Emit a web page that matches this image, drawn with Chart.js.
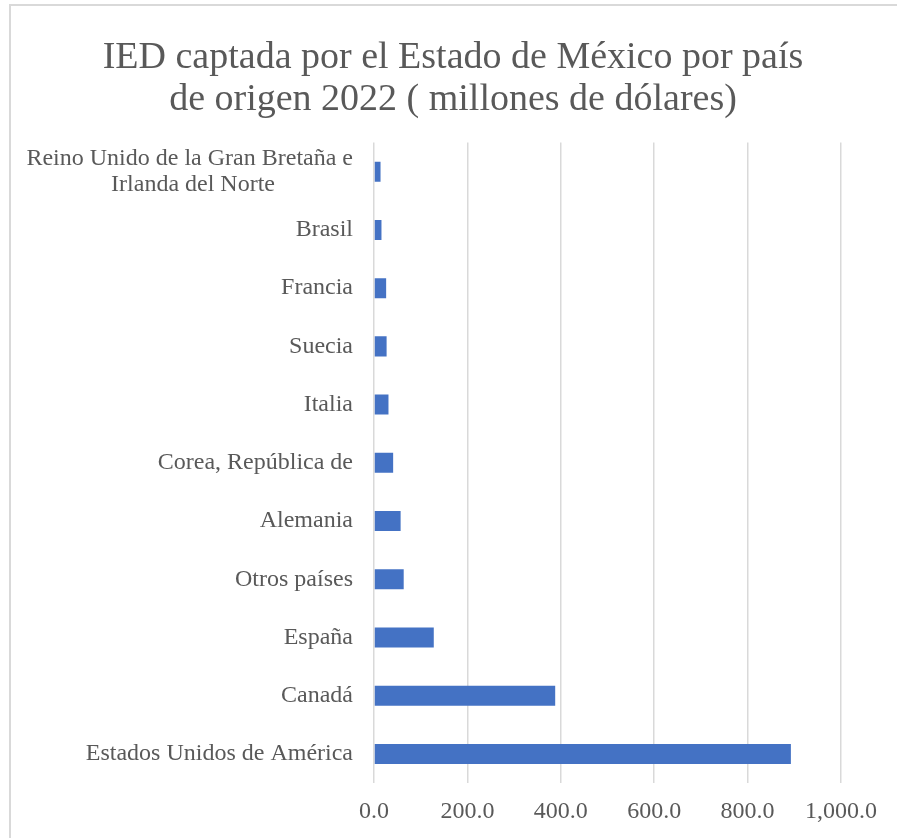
<!DOCTYPE html>
<html>
<head>
<meta charset="utf-8">
<script src="https://cdn.jsdelivr.net/npm/chart.js@4"></script>
<style>
  html, body { margin: 0; padding: 0; background: #ffffff; overflow: hidden; }
  #wrap { position: relative; width: 897px; height: 838px; }
  #frame { position: absolute; left: 9px; top: 4px; width: 1000px; height: 1000px;
           border-left: 2px solid #d9d9d9; border-top: 2px solid #d9d9d9; box-sizing: border-box; }
  canvas { position: absolute; left: 0; top: 0; }
</style>
</head>
<body>
<div id="wrap">
  <div id="frame"></div>
  <canvas id="c" width="897" height="838"></canvas>
</div>
<script>
const titleLines = ["IED captada por el Estado de México por país", "de origen 2022 ( millones de dólares)"];
const categories = [
  ["Reino Unido de la Gran Bretaña e", "Irlanda del Norte" + "\u00A0".repeat(13)],
  "Brasil",
  "Francia",
  "Suecia",
  "Italia",
  "Corea, República de",
  "Alemania",
  "Otros países",
  "España",
  "Canadá",
  "Estados Unidos de América"
];
const values = [14, 16, 26, 27, 31, 41, 57, 63.6, 128, 388, 892.7];
const xTicks = [0, 200, 400, 600, 800, 1000];

const txt = '#595959';
const serif = "Liberation Serif, serif";
const padL = 65;

// let the category labels use the space left of the layout padding (no clipping)
const widenLabelArea = {
  id: 'widenLabelArea',
  afterLayout(chart) { chart.scales.y.left = 0; }
};

new Chart(document.getElementById('c'), {
  type: 'bar',
  plugins: [widenLabelArea],
  data: {
    labels: categories,
    datasets: [{
      data: values,
      backgroundColor: '#4472C4',
      borderWidth: 0,
      categoryPercentage: 1,
      barPercentage: 0.344
    }]
  },
  options: {
    indexAxis: 'y',
    responsive: false,
    animation: false,
    font: { family: serif },
    layout: { padding: { left: padL, right: 56, top: 37, bottom: 0 } },
    plugins: {
      legend: { display: false },
      tooltip: { enabled: false },
      title: {
        display: true,
        text: titleLines,
        color: txt,
        font: { family: serif, size: 38, weight: 'normal', lineHeight: 1.1 },
        padding: { top: 0, bottom: 22 }
      }
    },
    scales: {
      x: {
        min: 0, max: 1000,
        afterBuildTicks: (s) => { s.ticks = xTicks.map(v => ({ value: v })); },
        afterFit: (s) => { s.height = 55; },
        grid: { color: '#d9d9d9', lineWidth: 1.5, drawTicks: false },
        border: { display: false },
        ticks: {
          color: txt,
          font: { family: serif, size: 24, lineHeight: 1.2 },
          padding: 14,
          maxRotation: 0,
          callback: (v) => Number(v).toLocaleString('en-US', { minimumFractionDigits: 1, maximumFractionDigits: 1 })
        }
      },
      y: {
        grid: { display: false, drawTicks: false },
        border: { display: false },
        afterFit: (s) => { s.width = 374 - padL; },
        ticks: {
          color: txt,
          font: { family: serif, size: 24, lineHeight: 1.1 },
          padding: 21,
          autoSkip: false
        }
      }
    }
  }
});
</script>
</body>
</html>
